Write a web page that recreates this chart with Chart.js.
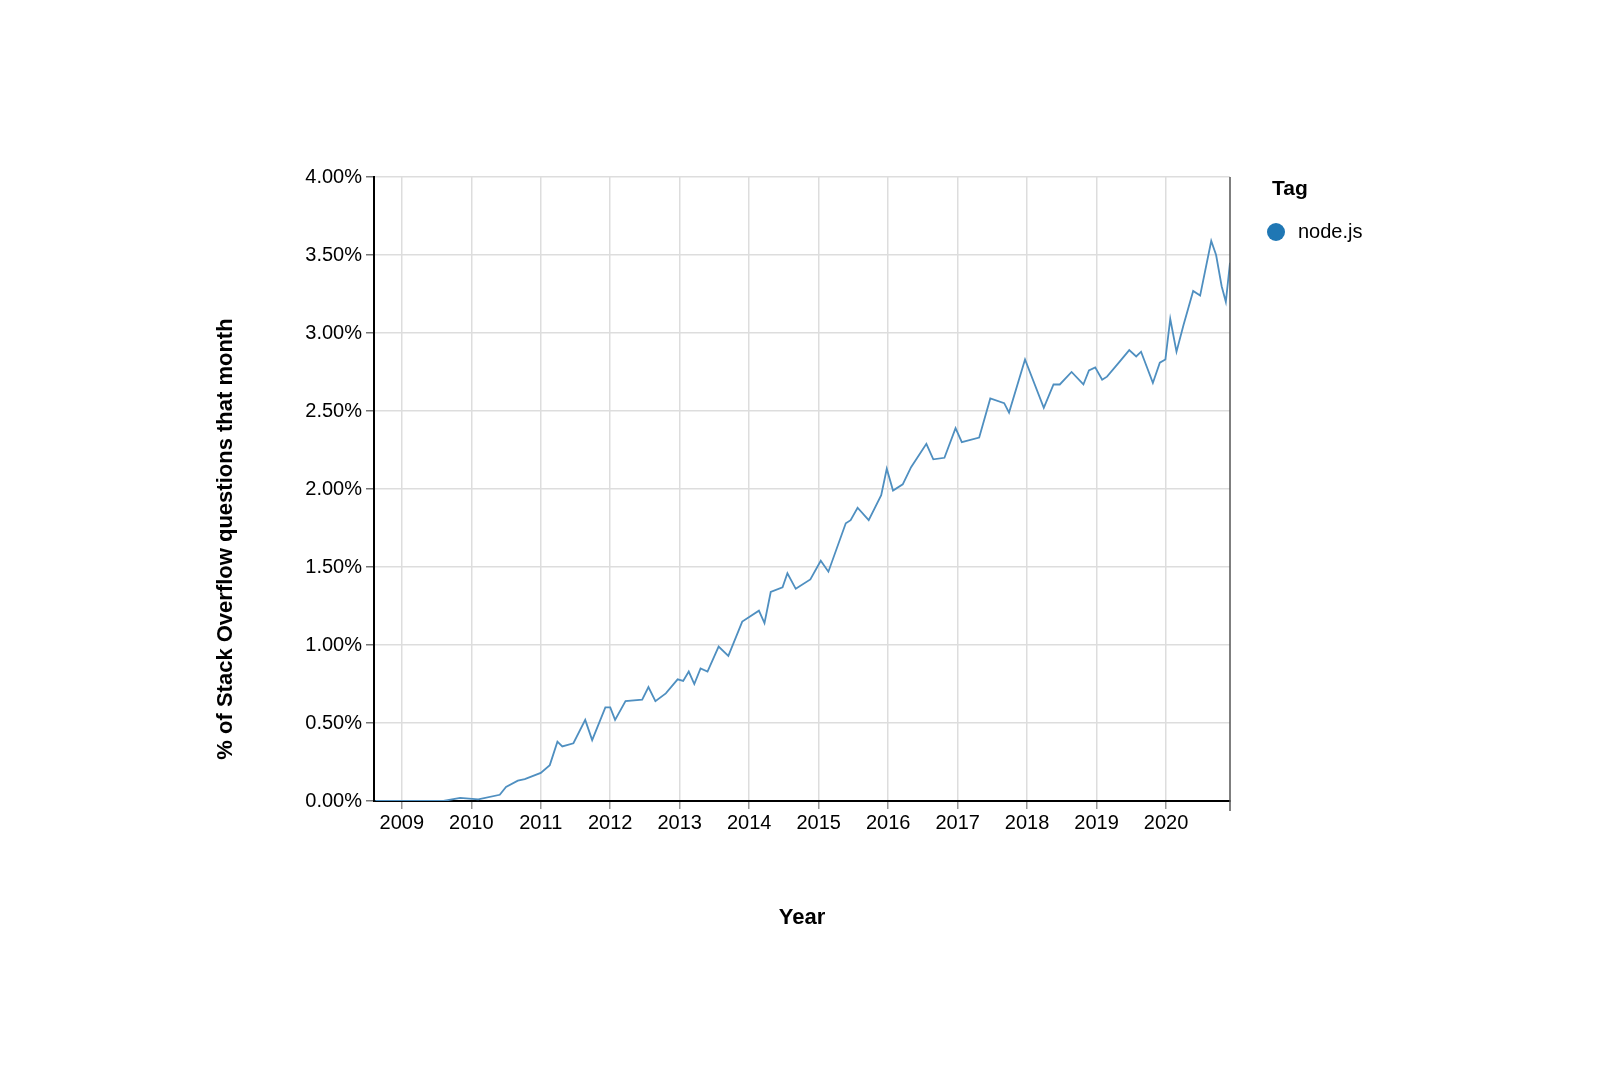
<!DOCTYPE html>
<html>
<head>
<meta charset="utf-8">
<script src="https://cdn.jsdelivr.net/npm/chart.js@4"></script>
<style>
  html, body { margin: 0; padding: 0; background: #fff; }
  #wrap { position: relative; width: 1600px; height: 1069px; }
</style>
</head>
<body>
<div id="wrap"><canvas id="chart"></canvas></div>
<script>
// decimal year of each reading, and node.js share (% of questions that month)
const anos = [
  2008.62, 2008.8, 2009.0, 2009.3, 2009.6, 2009.84, 2010.1, 2010.41, 2010.5, 2010.67, 2010.77,
  2011.0, 2011.13, 2011.24, 2011.31, 2011.47, 2011.64, 2011.74, 2011.93, 2012.0, 2012.07,
  2012.22, 2012.46, 2012.55, 2012.65, 2012.8, 2012.97, 2013.05, 2013.13, 2013.21, 2013.3,
  2013.4, 2013.56, 2013.7, 2013.9, 2014.14, 2014.22, 2014.31, 2014.48, 2014.55, 2014.67,
  2014.88, 2015.03, 2015.14, 2015.39, 2015.46, 2015.56, 2015.72, 2015.9, 2015.98, 2016.07,
  2016.21, 2016.33, 2016.55, 2016.65, 2016.81, 2016.97, 2017.06, 2017.31, 2017.47, 2017.67,
  2017.74, 2017.97, 2018.24, 2018.38, 2018.47, 2018.64, 2018.81, 2018.89, 2018.98, 2019.08,
  2019.15, 2019.32, 2019.47, 2019.57, 2019.64, 2019.81, 2019.91, 2019.99, 2020.06, 2020.15,
  2020.25, 2020.39, 2020.49, 2020.65, 2020.72, 2020.8, 2020.86, 2020.92
];
const nodejs = [
  0.0, 0.0, 0.0, 0.0, 0.0, 0.02, 0.01, 0.04, 0.09, 0.13, 0.14,
  0.18, 0.23, 0.38, 0.35, 0.37, 0.52, 0.39, 0.60, 0.60, 0.52,
  0.64, 0.65, 0.73, 0.64, 0.69, 0.78, 0.77, 0.83, 0.75, 0.85,
  0.83, 0.99, 0.93, 1.15, 1.22, 1.14, 1.34, 1.37, 1.46, 1.36,
  1.42, 1.54, 1.47, 1.78, 1.80, 1.88, 1.80, 1.96, 2.13, 1.99,
  2.03, 2.14, 2.29, 2.19, 2.20, 2.39, 2.30, 2.33, 2.58, 2.55,
  2.49, 2.83, 2.52, 2.67, 2.67, 2.75, 2.67, 2.76, 2.78, 2.70,
  2.72, 2.81, 2.89, 2.85, 2.88, 2.68, 2.81, 2.83, 3.09, 2.88,
  3.05, 3.27, 3.24, 3.59, 3.50, 3.30, 3.20, 3.45
];
const yTicks = [0, 0.5, 1, 1.5, 2, 2.5, 3, 3.5, 4];
const xTicks = [2009, 2010, 2011, 2012, 2013, 2014, 2015, 2016, 2017, 2018, 2019, 2020];

const COR = { linha: '#4f8fc0', ponto: '#1f77b4', grade: '#dddddd', eixo: '#000', texto: '#000' };
const FONTE = '"Liberation Sans", Arial, sans-serif';

const textos = {
    id: 'textos',
    afterDraw(chart) {
        const { ctx, chartArea: a } = chart;
        ctx.save();
        // borda direita
        ctx.strokeStyle = '#555';
        ctx.lineWidth = 1.5;
        ctx.beginPath(); ctx.moveTo(a.right, a.top); ctx.lineTo(a.right, a.bottom + 10); ctx.stroke();
        ctx.fillStyle = COR.texto;
        ctx.font = 'bold 22px ' + FONTE;
        ctx.textAlign = 'center';
        ctx.textBaseline = 'middle';
        ctx.fillText('Year', (a.left + a.right) / 2, 918);
        ctx.save();
        ctx.translate(226, (a.top + a.bottom) / 2 + 50);
        ctx.rotate(-Math.PI / 2);
        ctx.fillText('% of Stack Overflow questions that month', 0, 0);
        ctx.restore();
        // legenda
        ctx.textAlign = 'left';
        ctx.font = 'bold 21px ' + FONTE;
        ctx.fillText('Tag', 1272, 189);
        ctx.fillStyle = COR.ponto;
        ctx.beginPath(); ctx.arc(1276, 232, 9, 0, Math.PI * 2); ctx.fill();
        ctx.fillStyle = COR.texto;
        ctx.font = '20px ' + FONTE;
        ctx.fillText('node.js', 1298, 232);
        ctx.restore();
    }
};

new Chart(document.getElementById('chart'), {
    type: 'line',
    data: {
        datasets: [{
            label: 'node.js',
            data: anos.map((x, i) => ({ x, y: nodejs[i] })),
            borderColor: COR.linha,
            borderWidth: 1.8,
            pointRadius: 0,
            tension: 0,
            fill: false,
        }]
    },
    options: {
        responsive: true,
        maintainAspectRatio: false,
        animation: false,
        layout: { padding: { top: 177, right: 370, left: 0, bottom: 0 } },
        plugins: { legend: { display: false }, tooltip: { enabled: false } },
        scales: {
            x: {
                type: 'linear',
                min: 2008.6,
                max: 2020.92,
                afterBuildTicks: s => { s.ticks = xTicks.map(v => ({ value: v })); },
                afterFit: s => { s.height = 268; },
                grid: { color: COR.grade, lineWidth: 1.5, tickLength: 8, tickColor: '#999' },
                border: { color: COR.eixo, width: 2 },
                ticks: { color: COR.texto, font: { family: FONTE, size: 20 }, padding: 2, maxRotation: 0, callback: v => String(v) }
            },
            y: {
                min: 0,
                max: 4,
                afterBuildTicks: s => { s.ticks = yTicks.map(v => ({ value: v })); },
                afterFit: s => { s.width = 374; },
                grid: { color: COR.grade, lineWidth: 1.5, tickLength: 8, tickColor: '#777' },
                border: { color: COR.eixo, width: 2 },
                ticks: { color: COR.texto, font: { family: FONTE, size: 20 }, padding: 4, callback: v => v.toFixed(2) + '%' }
            }
        }
    },
    plugins: [textos]
});
</script>
</body>
</html>
